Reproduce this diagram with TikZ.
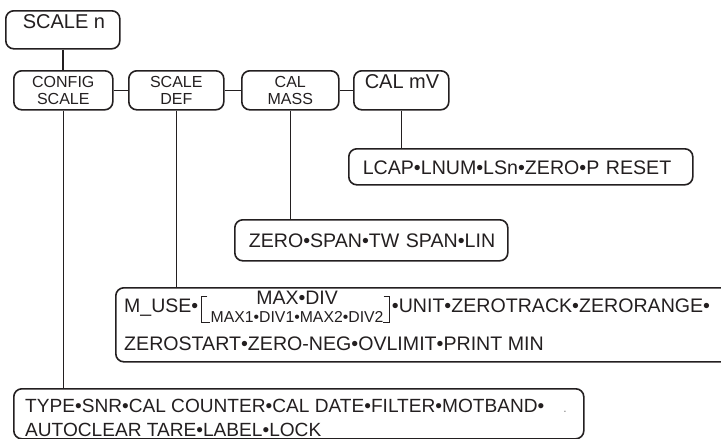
\documentclass[tikz,border=0pt]{standalone}
\usepackage{fontspec}
\setmainfont{Liberation Sans}
\definecolor{ink}{HTML}{231F20}
\newcommand\fsz[2]{\fontsize{#1}{#2}\selectfont}
\tikzset{
  box/.style={draw=ink, line width=1.6pt, rounded corners=8pt, inner sep=0pt, anchor=north west, text=ink},
  linebox/.style={box, inner xsep=14pt, inner ysep=0pt, align=left, text height=14.5pt, text depth=0pt, font=\fsz{19.6}{22}},
  topbox/.style={box, minimum height=39pt, align=center, font=\fsz{16}{17}},
  conn/.style={draw=ink, line width=1.6pt},
  lbl/.style={inner sep=0pt, text=ink},
  brk/.style={draw=ink, line width=0.8pt},
}
\begin{document}
\begin{tikzpicture}[x=1pt,y=-1pt]
\useasboundingbox (0,0) rectangle (721,439);
\clip (0,0) rectangle (721,439);

% top row
\node[box, minimum width=114pt, minimum height=38pt] (scalen) at (5,10) {};
\node[lbl, font=\fsz{20}{20}, anchor=base] (scalentxt) at (64,28) {SCALE n};

\node[topbox, minimum width=99pt] (config) at (13,70) {CONFIG\\SCALE};
\node[topbox, minimum width=95pt] (scaledef) at (128,70) {SCALE\\DEF};
\node[topbox, minimum width=97pt] (calmass) at (241,70) {CAL\\MASS};
\node[box, minimum width=95pt, minimum height=39pt] (calmv) at (353,70) {};
\node[lbl, font=\fsz{20}{20}, anchor=base] (calmvtxt) at (402,88) {CAL mV};

% list boxes
\node[linebox, text width=316pt, minimum height=36pt] (lcap) at (348,148) {\mbox{LCAP•LNUM•LSn•ZERO•P RESET}};
\node[linebox, text width=245pt, minimum height=41pt] (zero) at (234,219) {\mbox{ZERO•SPAN•TW SPAN•LIN}};

% scale def box
\node[box, minimum width=640pt, minimum height=74pt] (muse) at (115,287) {};
\node[lbl, font=\fsz{19.5}{19.5}, anchor=base west] (m1) at (124,312) {M\_USE•};
\path (m1.base east) ++(3,-16) coordinate (lbt) ++(0,26) coordinate (lbb);
\draw[brk] (lbt) ++(6,0) -- (lbt) -- (lbb) -- ++(9,0);
\path (lbb) ++(9,0) node[lbl, font=\fsz{15.8}{15.8}, anchor=base west] (m3) {MAX1•DIV1•MAX2•DIV2};
\path (m3.base) ++(0,-18) node[lbl, font=\fsz{19.5}{19.5}, anchor=base] (m2) {MAX•DIV};
\path (m3.base east) ++(6,0) coordinate (rbb) ++(0,-26) coordinate (rbt);
\draw[brk] (rbt) ++(-6,0) -- (rbt) -- (rbb) -- ++(-7,0);
\node[lbl, font=\fsz{19.6}{19.6}, anchor=base west, xshift=2pt] (m4) at (m1.base -| rbb) {•UNIT•ZEROTRACK•ZERORANGE•};
\node[lbl, font=\fsz{19.6}{19.6}, anchor=base west] (m5) at (124,350) {ZEROSTART•ZERO-NEG•OVLIMIT•PRINT MIN};

% config scale box
\node[box, minimum width=570pt, minimum height=50pt] (type) at (13,388) {};
\node[lbl, font=\fsz{19.1}{19.1}, anchor=base west] (t1) at (25,412) {TYPE•SNR•CAL COUNTER•CAL DATE•FILTER•MOTBAND•};
\node[lbl, font=\fsz{12}{12}, text=gray, anchor=base] (tdot) at (565,412) {.};
\node[lbl, font=\fsz{19.1}{19.1}, anchor=base west] (t2) at (25,436) {AUTOCLEAR TARE•LABEL•LOCK};

% connectors
\draw[conn] (scalen.south) -- (scalen.south |- config.north);
\draw[conn] (config.east) -- (scaledef.west);
\draw[conn] (scaledef.east) -- (calmass.west);
\draw[conn] (calmass.east) -- (calmv.west);
\draw[conn] (calmv.south) -- (calmv.south |- lcap.north);
\draw[conn] (calmass.south) -- (calmass.south |- zero.north);
\draw[conn] (scaledef.south) -- (scaledef.south |- muse.north);
\draw[conn] (config.south) -- (config.south |- type.north);
\end{tikzpicture}
\end{document}
